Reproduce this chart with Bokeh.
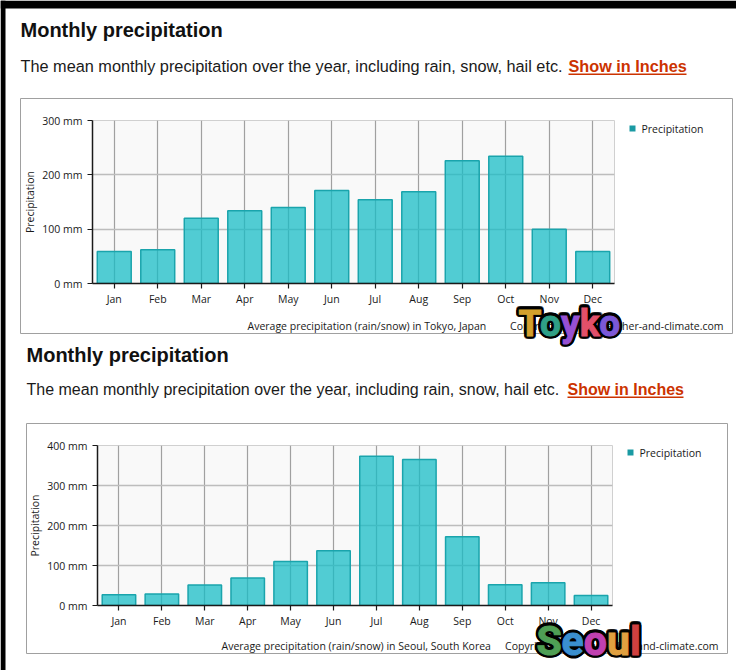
import math
from bokeh.plotting import figure
from bokeh.models import (ColumnDataSource, Range1d, FactorRange, Label, BoxAnnotation,
                          FixedTicker, PrintfTickFormatter)
from bokeh.embed import file_html
from bokeh.resources import INLINE

# ---------------- data ----------------
months = ["Jan", "Feb", "Mar", "Apr", "May", "Jun", "Jul", "Aug", "Sep", "Oct", "Nov", "Dec"]
tokyo_mm = [59, 62, 120, 134, 140, 171, 154, 169, 226, 234, 100, 59]
seoul_mm = [27, 29, 51, 69, 110, 137, 373, 365, 172, 52, 57, 25]
tokyo_ticks = [0, 100, 200, 300]
seoul_ticks = [0, 100, 200, 300, 400]
heading = "Monthly precipitation"
description = "The mean monthly precipitation over the year, including rain, snow, hail etc."
link_text = "Show in Inches"
legend_label = "Precipitation"
y_label = "Precipitation"
tokyo_caption = "Average precipitation (rain/snow) in Tokyo, Japan"
seoul_caption = "Average precipitation (rain/snow) in Seoul, South Korea"
copyright_text = "Copyright \u00a9 2023 weather-and-climate.com"
tokyo_sticker = ["T", "o", "y", "k", "o"]
seoul_sticker = ["S", "e", "o", "u", "l"]

CHART_FONT = "Open Sans"
PAGE_FONT = "Liberation Sans"
BAR_FILL = "#18bcc5"
BAR_LINE = "#1aa4ac"
LEGEND_SQ = "#1a9aa3"
LINK = "#cc3300"
W = 736


def make_chart(values, ticks, H, fl, fr, ft, fb):
    src = ColumnDataSource(dict(month=months, mm=values))
    p = figure(width=W, height=H, x_range=FactorRange(*months),
               y_range=Range1d(0, ticks[-1]), title=None,
               output_backend="svg", toolbar_location=None,
               min_border_left=fl, min_border_right=W - fr,
               min_border_top=ft, min_border_bottom=H - fb)
    p.background_fill_color = "#f9f9f9"
    p.border_fill_color = "white"
    p.outline_line_color = "#d0d0d0"
    p.vbar(x="month", top="mm", width=0.78, source=src,
           fill_color=BAR_FILL, fill_alpha=0.75, line_color=BAR_LINE, line_width=1.5)

    for ax in (p.xaxis[0], p.yaxis[0]):
        ax.axis_line_color = "#1a1a1a"
        ax.axis_line_width = 1.5
        ax.major_tick_line_color = "#1a1a1a"
        ax.major_tick_line_width = 1.2
        ax.major_tick_out = 5
        ax.major_tick_in = 0
        ax.minor_tick_line_color = None
        ax.major_label_text_font = CHART_FONT
        ax.major_label_text_font_size = "10.5px"
        ax.major_label_text_color = "#1a1a1a"
    p.xaxis.major_label_standoff = 3
    p.yaxis.major_label_standoff = 5
    p.yaxis.ticker = FixedTicker(ticks=ticks)
    p.yaxis.formatter = PrintfTickFormatter(format="%d mm")
    p.yaxis.axis_label = y_label
    p.yaxis.axis_label_text_font = CHART_FONT
    p.yaxis.axis_label_text_font_size = "10.5px"
    p.yaxis.axis_label_text_font_style = "normal"
    p.yaxis.axis_label_text_color = "#1a1a1a"
    p.yaxis.axis_label_standoff = 2

    p.xgrid.grid_line_color = "#a0a0a0"
    p.xgrid.grid_line_width = 1.2
    p.ygrid.ticker = FixedTicker(ticks=ticks)
    p.ygrid.grid_line_color = "#bdbdbd"
    p.ygrid.grid_line_width = 1.5
    return p


# chart figures (frames placed where the reference plot areas are)
HA = 338
pA = make_chart(tokyo_mm, tokyo_ticks, HA, 92, 614, 120, 283)
HB = 326
pB = make_chart(seoul_mm, seoul_ticks, HB, 97, 612, 445 - HA, 605 - HA)

# transparent full-page overlay for the page texts, chart boxes, legends and stickers
ov = figure(width=W, height=670, x_range=Range1d(0, W), y_range=Range1d(670, 0),
            x_axis_type=None, y_axis_type=None, title=None,
            output_backend="svg", toolbar_location=None,
            min_border=0, min_border_left=0, min_border_right=0,
            min_border_top=0, min_border_bottom=0,
            styles={"position": "absolute", "top": "0px", "left": "0px",
                    "z-index": "10", "pointer-events": "none"})
ov.background_fill_color = None
ov.border_fill_color = None
ov.outline_line_color = None
ov.grid.visible = False


def lab(x, y, text, size, font=CHART_FONT, color="#1a1a1a", style="normal", align="left"):
    ov.add_layout(Label(x=x, y=y, text=text, text_font=font, text_font_size=size,
                        text_color=color, text_font_style=style,
                        text_align=align, text_baseline="middle"))


def box(l, t, r, b, fill=None, line=None, lw=1.0):
    ov.add_layout(BoxAnnotation(left=l, right=r, top=t, bottom=b,
                                fill_color=fill if fill else "white",
                                fill_alpha=1.0 if fill else 0.0,
                                line_color=line if line else "white",
                                line_width=lw, line_alpha=1.0 if line else 0.0))


def sticker(letters, colors, x0, advances, ymid, size, r=2.6):
    offsets = [(r * math.cos(a * math.pi / 6), r * math.sin(a * math.pi / 6)) for a in range(12)]
    x = x0
    spots = []
    for adv in advances:
        spots.append(x)
        x += adv
    # black outline layer
    for ch, sx in zip(letters, spots):
        for dx, dy in offsets:
            ov.add_layout(Label(x=sx + dx, y=ymid + dy, text=ch, text_font="Roboto",
                                text_font_style="bold", text_font_size=size,
                                text_color="black", text_outline_color="black",
                                text_align="left", text_baseline="middle"))
    # coloured letters (own-colour outline makes the strokes heavier)
    for ch, c, sx in zip(letters, colors, spots):
        ov.add_layout(Label(x=sx, y=ymid, text=ch, text_font="Roboto",
                            text_font_style="bold", text_font_size=size,
                            text_color=c, text_outline_color=c,
                            text_align="left", text_baseline="middle"))


# screenshot frame edges
box(0, 0, W, 8, fill="black")
box(0, 0, 5, 670, fill="black")

# ---- Tokyo section ----
lab(20, 29, heading, "20px", font=PAGE_FONT, color="#111111", style="bold")
lab(20, 65.4, description, "16.3px", font=PAGE_FONT)
lab(568, 65.4, link_text, "16.25px", font=PAGE_FONT, color=LINK, style="bold")
box(568, 73, 686, 74.5, fill=LINK)
box(20, 98, 732, 333, line="#a0a0a0", lw=1)
box(629, 125, 635, 131, fill=LEGEND_SQ)
lab(641, 128, legend_label, "10.5px")
lab(247, 325, tokyo_caption, "10.5px")
lab(723, 325, copyright_text, "10.5px", align="right")
sticker(tokyo_sticker, ["#d3a02c", "#2f9f86", "#9650d2", "#e2506a", "#7b58d8"],
        518, [21.5, 21, 18.8, 19.5, 21], 322.5, "37px")

# ---- Seoul section ----
lab(26, 354, heading, "20px", font=PAGE_FONT, color="#111111", style="bold")
lab(26, 388.5, description, "16px", font=PAGE_FONT)
lab(567, 388.5, link_text, "16px", font=PAGE_FONT, color=LINK, style="bold")
box(567, 396, 683, 397.5, fill=LINK)
box(26, 423, 727, 653, line="#a0a0a0", lw=1)
box(627, 449, 633, 455, fill=LEGEND_SQ)
lab(639, 452, legend_label, "10.5px")
lab(221, 645, seoul_caption, "10.5px")
lab(718, 645, copyright_text, "10.5px", align="right")
sticker(seoul_sticker, ["#4f9f55", "#3a8fd0", "#c040b0", "#e0a040", "#d04040"],
        536, [25, 22.2, 23.4, 22.9, 11], 640, "41px")

open("out.html", "w").write(file_html([pA, pB, ov], INLINE))
